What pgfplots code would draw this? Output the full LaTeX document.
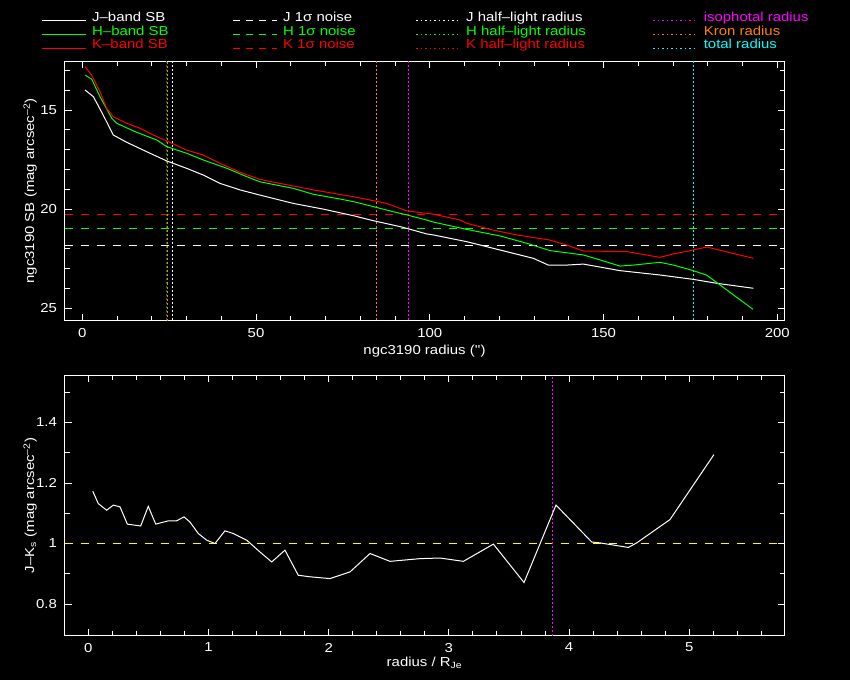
\documentclass[border=0pt]{standalone}
\usepackage{pgfplots}
\pgfplotsset{compat=1.18}
\usepackage{fontspec}
\newfontfamily\pg{Liberation Sans}[FakeStretch=1.15]
\definecolor{pgorange}{RGB}{255,128,0}
\definecolor{pgmagenta}{RGB}{255,0,255}
\definecolor{pgcyan}{RGB}{0,255,255}
\definecolor{pgyellow}{RGB}{255,255,0}
\definecolor{pggreen}{RGB}{0,255,0}
\definecolor{pgred}{RGB}{255,0,0}
\definecolor{pgwhite}{RGB}{255,255,255}
\pgfplotsset{pgstyle/.style={
  scale only axis, anchor=south west,
  axis line style={pgwhite,line width=1pt},
  tick align=inside, xtick pos=both, ytick pos=both,
  tick style={pgwhite,line width=1pt},
  major tick length=7pt, minor tick length=5pt,
  tick label style={pgwhite},
  xticklabel style={yshift=-3pt},
  yticklabel style={xshift=-3pt},
  label style={pgwhite},
  /pgf/number format/assume math mode=true,
  every axis plot/.append style={line width=1pt},
}}
\begin{document}
\pg\fontsize{13}{15.6}\selectfont
\begin{tikzpicture}
\fill[black] (0pt,0pt) rectangle (850pt,680pt);
\useasboundingbox (0pt,0pt) rectangle (850pt,680pt);
% ---------------- top panel
\begin{axis}[pgstyle,
  at={(64.5pt,359.5pt)}, width=720pt, height=259pt,
  xmin=-5.122, xmax=202.07, ymin=12.554, ymax=25.615, y dir=reverse,
  xtick={0,50,100,150,200}, minor xtick={10,20,30,40,60,70,80,90,110,120,130,140,160,170,180,190},
  ytick={15,20,25}, minor ytick={13,14,16,17,18,19,21,22,23,24},
  xlabel={ngc3190 radius (\symbol{39}\symbol{39})},
  ylabel={ngc3190 SB (mag arcsec\textsuperscript{–2})},
  xlabel style={at={(axis description cs:0.5,-0.118)}, anchor=center},
  ylabel style={at={(axis description cs:-0.0476,0.5)}, anchor=center},
]
% noise levels
\addplot[pgred, dash pattern=on 8pt off 8pt] coordinates {(-5.122,20.269) (202.07,20.269)};
\addplot[pggreen, dash pattern=on 8pt off 8pt] coordinates {(-5.122,20.975) (202.07,20.975)};
\addplot[pgwhite, dash pattern=on 8pt off 8pt] coordinates {(-5.122,21.833) (202.07,21.833)};
% radii
\addplot[pgred, dash pattern=on 2pt off 2pt] coordinates {(24.23,12.554) (24.23,25.615)};
\addplot[pggreen, dash pattern=on 2pt off 2pt] coordinates {(24.52,25.615) (24.52,12.554)};
\addplot[pgwhite, dash pattern=on 2pt off 2pt] coordinates {(25.96,12.554) (25.96,25.615)};
\addplot[pgorange, dash pattern=on 2pt off 2pt] coordinates {(84.66,12.554) (84.66,25.615)};
\addplot[pgmagenta, dash pattern=on 2pt off 2pt] coordinates {(93.87,12.554) (93.87,25.615)};
\addplot[pgcyan, dash pattern=on 2pt off 2pt] coordinates {(175.88,12.554) (175.88,25.615)};
% J band
\addplot[pgwhite] coordinates {
(0.8,13.99) (3.2,14.33) (6.0,15.25) (8.9,16.26) (12.8,16.63) (18.5,17.10) (24.3,17.57)
(30.0,17.94) (34.8,18.28) (39.6,18.70) (45.4,19.03) (51.1,19.29) (60.7,19.71) (69.4,20.00)
(78.0,20.33) (83.7,20.58) (91.4,20.88) (93.4,20.97) (99.1,21.25) (101,21.30) (110.6,21.64)
(120.2,22.06) (129.8,22.48) (134.1,22.82) (139.4,22.82) (144.2,22.77) (154.7,23.10)
(166.2,23.32) (175.8,23.54) (182.6,23.74) (193.1,23.99)};
% H band
\addplot[pggreen] coordinates {
(0.8,13.24) (2.7,13.44) (5.1,14.33) (8.5,15.42) (9.9,15.67) (15.7,16.13) (21.4,16.51)
(24.3,16.85) (30.0,17.18) (34.8,17.52) (41.6,17.94) (47.3,18.36) (51.1,18.62) (60.7,18.95)
(66.5,19.25) (74.2,19.49) (78.0,19.62) (83.7,19.87) (89.5,20.13) (93.4,20.29) (99.1,20.55)
(101,20.65) (110.6,21.02) (120.2,21.35) (127.9,21.72) (134.6,22.09) (144.2,22.31)
(149.0,22.56) (154.7,22.87) (158.6,22.82) (166.2,22.68) (170.1,22.82) (175.8,23.10)
(179.7,23.33) (193.0,25.05)};
% K band
\addplot[pgred] coordinates {
(0.8,12.82) (2.7,13.24) (5.1,14.08) (7.0,14.91) (8.9,15.34) (12.8,15.67) (16.6,15.92)
(20.4,16.26) (24.3,16.56) (30.0,17.02) (34.8,17.27) (39.6,17.69) (45.4,18.14) (51.1,18.50)
(55.9,18.67) (60.7,18.83) (66.5,19.03) (72.2,19.20) (78.0,19.37) (83.7,19.57) (87.6,19.71)
(91.4,19.96) (93.4,20.09) (99.1,20.21) (101,20.25) (108.7,20.55) (110.6,20.71) (117.3,21.02)
(125.0,21.30) (134.6,21.56) (139.4,21.81) (144.2,22.11) (156.7,22.14) (166.2,22.43)
(170.1,22.26) (175.8,22.06) (179.7,21.91) (193.1,22.48)};
\end{axis}
% ---------------- bottom panel
\begin{axis}[pgstyle,
  at={(64.5pt,44.5pt)}, width=720pt, height=260pt,
  xmin=-0.198, xmax=5.792, ymin=0.6959, ymax=1.5554,
  xtick={0,1,2,3,4,5}, minor xtick={0.2,0.4,0.6,0.8,1.2,1.4,1.6,1.8,2.2,2.4,2.6,2.8,3.2,3.4,3.6,3.8,4.2,4.4,4.6,4.8,5.2,5.4,5.6},
  ytick={0.8,1,1.2,1.4}, minor ytick={0.9,1.1,1.3,1.5},
  xlabel={radius / R\textsubscript{Je}},
  ylabel={J–K\textsubscript{s} (mag arcsec\textsuperscript{–2})},
  xlabel style={at={(axis description cs:0.5,-0.106)}, anchor=center},
  ylabel style={at={(axis description cs:-0.0476,0.5)}, anchor=center},
]
\addplot[pgyellow, dash pattern=on 8pt off 8pt] coordinates {(-0.198,1) (5.792,1)};
\addplot[pgmagenta, dash pattern=on 2pt off 2pt] coordinates {(3.862,0.6959) (3.862,1.5554)};
\addplot[pgwhite] coordinates {
(0.037,1.173) (0.083,1.132) (0.153,1.110) (0.208,1.127) (0.264,1.121) (0.325,1.064)
(0.436,1.058) (0.499,1.123) (0.561,1.064) (0.666,1.075) (0.735,1.075) (0.796,1.088)
(0.846,1.071) (0.915,1.033) (0.985,1.011) (1.054,1.000) (1.137,1.042) (1.206,1.033)
(1.318,1.011) (1.428,0.972) (1.526,0.939) (1.636,0.978) (1.747,0.895) (1.844,0.890)
(2.011,0.884) (2.177,0.906) (2.344,0.967) (2.510,0.941) (2.760,0.950) (2.926,0.952)
(3.120,0.941) (3.370,0.998) (3.625,0.871) (3.891,1.127) (4.188,1.005) (4.257,1.002)
(4.493,0.987) (4.562,1.002) (4.839,1.079) (5.205,1.294)};
\end{axis}
% ---------------- key (decoration above the panels)
\begin{scope}[line width=1pt, every node/.style={anchor=base west, inner sep=0pt}]
\draw[pgwhite] (42pt,659.5pt) -- (86pt,659.5pt);
\node[text=pgwhite] at (91.7pt,658pt) {J–band SB};
\draw[pggreen] (42pt,645.5pt) -- (86pt,645.5pt);
\node[text=pggreen] at (91.7pt,644.6pt) {H–band SB};
\draw[pgred] (42pt,631.5pt) -- (86pt,631.5pt);
\node[text=pgred] at (91.7pt,631pt) {K–band SB};
\draw[pgwhite, dash pattern=on 7pt off 6pt] (233pt,659.5pt) -- (277pt,659.5pt);
\node[text=pgwhite] at (282.7pt,658pt) {J 1σ noise};
\draw[pggreen, dash pattern=on 7pt off 6pt] (233pt,645.5pt) -- (277pt,645.5pt);
\node[text=pggreen] at (282.7pt,644.6pt) {H 1σ noise};
\draw[pgred, dash pattern=on 7pt off 6pt] (233pt,631.5pt) -- (277pt,631.5pt);
\node[text=pgred] at (282.7pt,631pt) {K 1σ noise};
\draw[pgwhite, dash pattern=on 1.5pt off 3pt] (416pt,659.5pt) -- (457pt,659.5pt);
\node[text=pgwhite] at (465.7pt,658pt) {J half–light radius};
\draw[pggreen, dash pattern=on 1.5pt off 3pt] (416pt,645.5pt) -- (457pt,645.5pt);
\node[text=pggreen] at (465.7pt,644.6pt) {H half–light radius};
\draw[pgred, dash pattern=on 1.5pt off 3pt] (416pt,631.5pt) -- (457pt,631.5pt);
\node[text=pgred] at (465.7pt,631pt) {K half–light radius};
\draw[pgmagenta, dash pattern=on 1.5pt off 3pt] (653pt,659.5pt) -- (694pt,659.5pt);
\node[text=pgmagenta] at (703.3pt,658pt) {isophotal radius};
\draw[pgorange, dash pattern=on 1.5pt off 3pt] (653pt,645.5pt) -- (694pt,645.5pt);
\node[text=pgorange] at (703.3pt,644.6pt) {Kron radius};
\draw[pgcyan, dash pattern=on 1.5pt off 3pt] (653pt,631.5pt) -- (694pt,631.5pt);
\node[text=pgcyan] at (703.3pt,631pt) {total radius};
\end{scope}
\end{tikzpicture}
\end{document}
